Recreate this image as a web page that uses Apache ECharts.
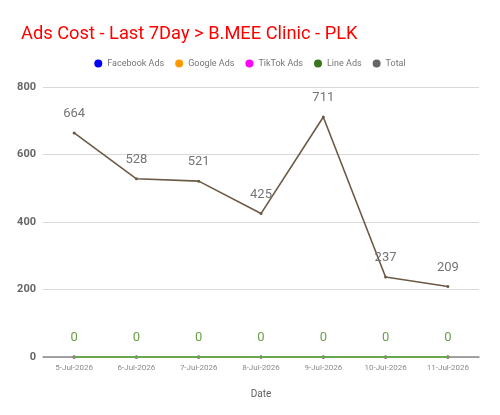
<!DOCTYPE html>
<html><head><meta charset="utf-8">
<script src="https://cdn.jsdelivr.net/npm/echarts@6/dist/echarts.min.js"></script>
<style>html,body{margin:0;padding:0;background:#fff}#c{width:500px;height:415px}</style>
</head><body><div id="c"></div>
<script>
var categories = ['5-Jul-2026','6-Jul-2026','7-Jul-2026','8-Jul-2026','9-Jul-2026','10-Jul-2026','11-Jul-2026'];
var facebookAds = [0,0,0,0,0,0,0];
var googleAds = [0,0,0,0,0,0,0];
var tiktokAds = [0,0,0,0,0,0,0];
var lineAds = [0,0,0,0,0,0,0];
var total = [664,528,521,425,711,237,209];
var yTicks = [0,200,400,600,800];

var font = 'Roboto, "Noto Sans", sans-serif';
function mk(name, data, color, label, z){
  return {name:name, type:'line', data:data, symbol:'circle', symbolSize:3, showSymbol:true, clip:false,
    zlevel:1, lineStyle:{color:color,width:name==='Line Ads'?2:1.6}, itemStyle:{color:color}, z:z,
    label:{show:label, position:'top', distance:11, fontSize:13, fontFamily:font, color: name==='Total' ? '#757575' : '#6a9f4a'}};
}
var chart = echarts.init(document.getElementById('c'), null, {renderer:'canvas'});
chart.setOption({
  animation:false,
  title:{text:'Ads Cost - Last 7Day > B.MEE Clinic - PLK', left:16, top:20,
    textStyle:{color:'#ff0000', fontSize:18.3, fontWeight:'normal', fontFamily:font}},
  legend:{top:54, left:'center', icon:'circle', itemWidth:8, itemHeight:8, itemGap:11,
    textStyle:{color:'#757575', fontSize:9, fontFamily:font},
    data:[
      {name:'Facebook Ads', itemStyle:{color:'#0000ff'}},
      {name:'Google Ads', itemStyle:{color:'#ff9900'}},
      {name:'TikTok Ads', itemStyle:{color:'#ff00ff'}},
      {name:'Line Ads', itemStyle:{color:'#38761d'}},
      {name:'Total', itemStyle:{color:'#666666'}}
    ]},
  grid:{left:43, right:21, top:87, bottom:58, containLabel:false},
  xAxis:{type:'category', data:categories, boundaryGap:true,
    name:'Date', nameLocation:'middle', nameGap:32,
    nameTextStyle:{color:'#616161', fontSize:10, fontFamily:font},
    axisLine:{lineStyle:{color:'#888',width:1.5}}, axisTick:{show:false},
    axisLabel:{color:'#8a8a8a', fontSize:8, fontFamily:font, margin:7, interval:0}},
  yAxis:{type:'value', min:0, max:800, interval:200,
    axisLine:{show:false}, axisTick:{show:false},
    axisLabel:{color:'#666', fontSize:11, fontWeight:'bold', fontFamily:font, margin:7,
      formatter:function(v){return yTicks.indexOf(v)>=0 ? String(v) : '';}},
    splitLine:{lineStyle:{color:'#d9d9d9',width:1}}},
  series:[
    mk('Facebook Ads', facebookAds, '#0000ff', false, 12),
    mk('Google Ads', googleAds, '#ff9900', false, 13),
    mk('TikTok Ads', tiktokAds, '#ff00ff', false, 14),
    mk('Line Ads', lineAds, '#6aa84f', true, 15),
    mk('Total', total, '#6b5a45', true, 16)
  ]
});
</script></body></html>
